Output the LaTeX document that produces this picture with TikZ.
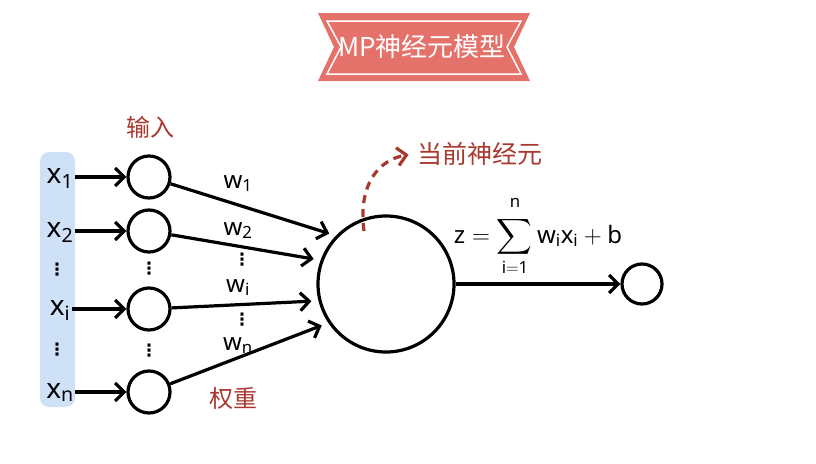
\documentclass[tikz,border=0pt]{standalone}
\usepackage{amsmath}
\usepackage{fontspec}
\setmainfont{Noto Sans}
\setmathsf{Noto Sans}
\newfontfamily\cjk{Noto Sans CJK SC}
\newfontfamily\symf{DejaVu Sans}
\usepackage{tikz}
\usetikzlibrary{arrows.meta, positioning, calc}
\definecolor{ribbon}{HTML}{E5726A}
\definecolor{labred}{HTML}{A9382F}
\definecolor{panel}{HTML}{CFE1F7}

\begin{document}
\begin{tikzpicture}[x=1pt, y=-1pt, line width=3.2pt,
  unit/.style={circle,draw,minimum size=42pt,inner sep=0pt},
  neuron/.style={circle,draw,minimum size=136pt,inner sep=0pt},
  sym/.style={font=\fontsize{28}{30}\selectfont,inner sep=0pt,anchor=base},
  wsym/.style={font=\fontsize{24}{26}\selectfont,inner sep=0pt,anchor=base},
  vdot/.style={font=\symf\bfseries\fontsize{17}{17}\selectfont,inner sep=0pt},
  note/.style={font=\cjk\fontsize{24}{26}\selectfont,text=labred},
  arr/.style={-{Straight Barb[length=9pt,width=18pt]}}]
\useasboundingbox (0,0) rectangle (816,463);

% title ribbon
\fill[ribbon] (318,13) -- (530,13) -- (514,47) -- (530,81) -- (318,81) -- (334,47) -- cycle;
\draw[white,line width=1.5pt] (327,21) -- (521,21) -- (507,47) -- (521,74) -- (327,74) -- (341,47) -- cycle;
\node[font=\cjk\fontsize{26}{28}\selectfont,text=white] (title) at (422,47) {MP神经元模型};

% inputs
\fill[panel,rounded corners=9pt] (40,152) rectangle (75,407);
\node[sym] (x1) at (60,183) {$\mathsf{x_1}$};
\node[sym] (x2) at (60,237) {$\mathsf{x_2}$};
\node[sym] (xi) at (60,315) {$\mathsf{x_i}$};
\node[sym] (xn) at (60,398) {$\mathsf{x_n}$};
\node[vdot] (xd1) at (57,270) {⋮};
\node[vdot] (xd2) at (57,350) {⋮};

\node[unit] (in1) at (149,177) {};
\node[unit] (in2) at (149,231) {};
\node[unit] (ini) at (149,309) {};
\node[unit] (inn) at (149,392) {};
\node[vdot] (id1) at (149,269) {⋮};
\node[vdot] (id2) at (149,351) {⋮};

\foreach \k in {1,2,i,n}
  \draw[arr] (x\k.east |- in\k) -- (in\k);

\node[note] (inlab) at (150,127) {输入};

% current neuron
\node[neuron] (big) at (386,284) {};
\draw[arr,shorten >=7pt] (in1) -- (big.136);
\draw[arr,shorten >=7pt] (in2) -- (big.160);
\draw[arr,shorten >=7pt] (ini) -- (big.194);
\draw[arr,shorten >=7pt] (inn) -- (big.214);

\node[wsym] (w1) at (238,188) {$\mathsf{w_1}$};
\node[wsym] (w2) at (238,235) {$\mathsf{w_2}$};
\node[wsym] (wi) at (238,292) {$\mathsf{w_i}$};
\node[wsym] (wn) at (238,350) {$\mathsf{w_n}$};
\node[vdot] (wd1) at (242,260) {⋮};
\node[vdot] (wd2) at (242,320) {⋮};
\node[note] (wlab) at (233,398) {权重};

\node[note,font=\cjk\fontsize{25}{27}\selectfont] (curlab) at (480,154) {当前神经元};
\coordinate (cur) at (364,231);
\draw[arr,labred,dash pattern=on 8pt off 6pt,shorten >=4pt]
  (cur) .. controls (358,185) and (378,160) .. (curlab.west);

% output
\node[wsym,anchor=base] (sum) at (538,243)
  {$\displaystyle\mathsf{z} = \sum_{\mathsf{i=1}}^{\raisebox{4pt}{$\scriptstyle\mathsf{n}$}} \mathsf{w_i x_i} + \mathsf{b}$};
\node[circle,draw,minimum size=40pt,inner sep=0pt] (out) at (642,284) {};
\draw[arr] (big.east) -- (out);
\end{tikzpicture}
\end{document}
